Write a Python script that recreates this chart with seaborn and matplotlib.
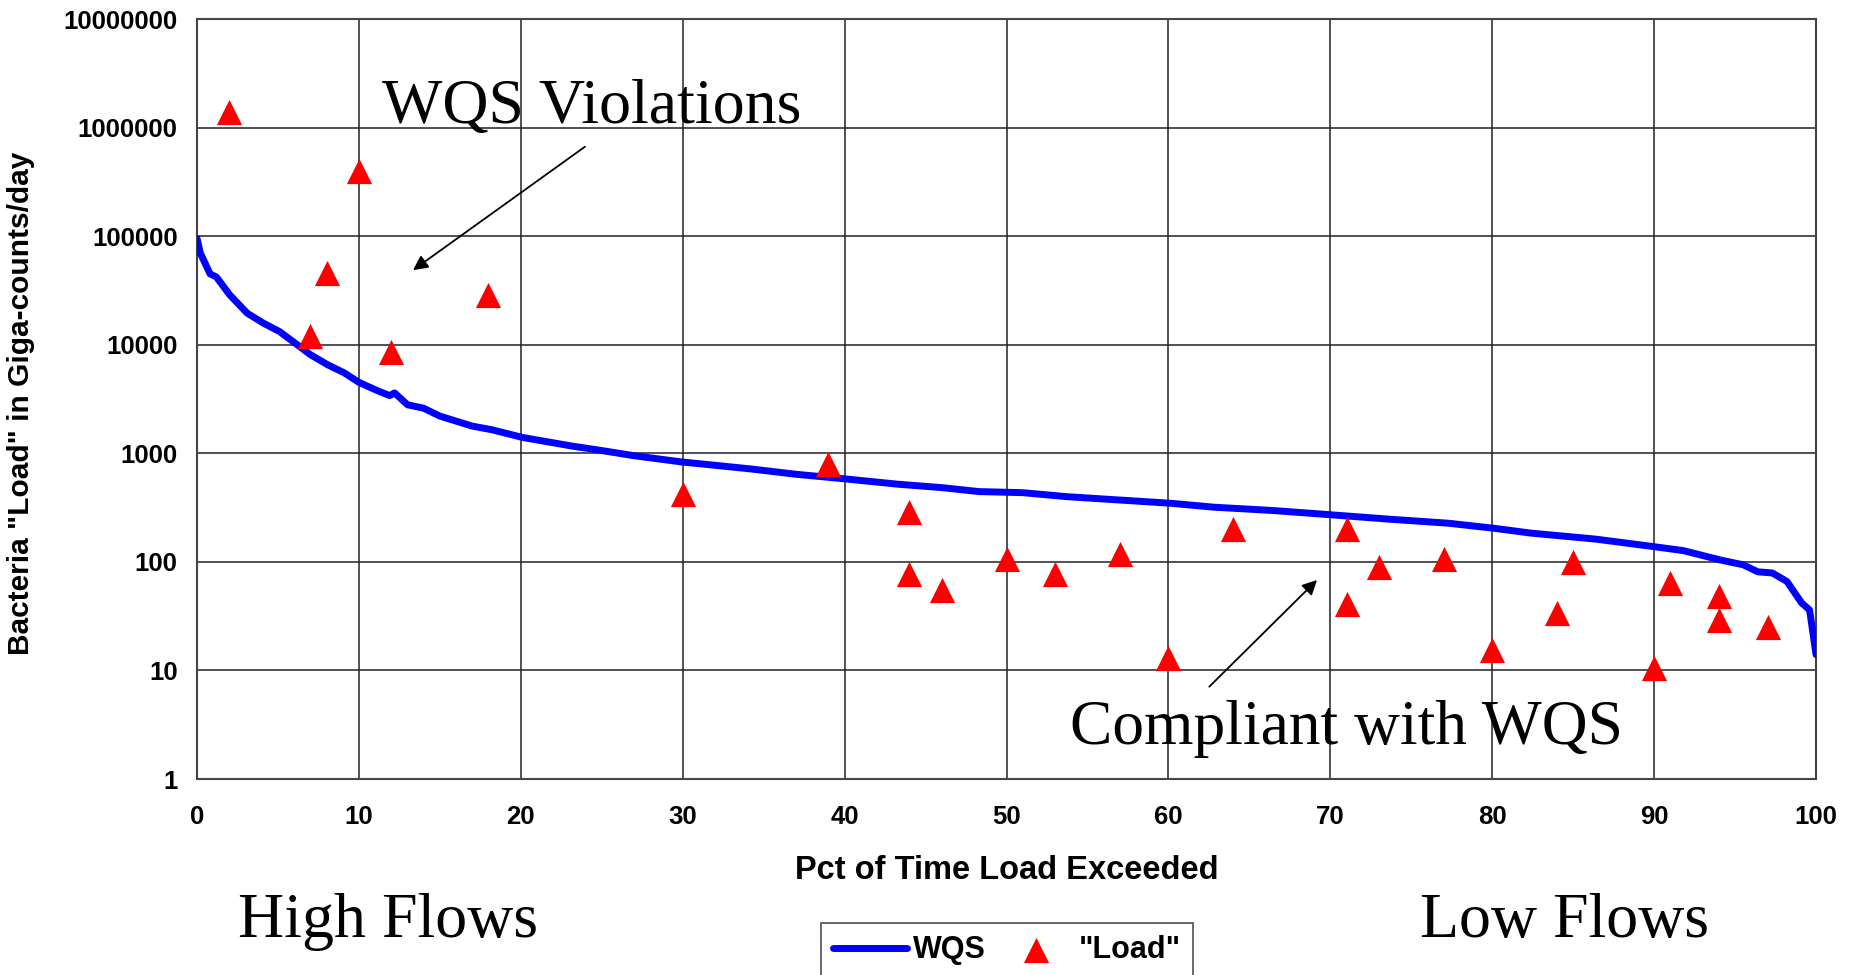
import numpy as np
import pandas as pd
import matplotlib
matplotlib.use('Agg')
import matplotlib.pyplot as plt
import seaborn as sns
from matplotlib.ticker import NullLocator

# WQS load duration curve (pct of time exceeded vs load)
wqs_pct = [0, 0.2, 0.8, 1.2, 2.0, 3.1, 4.1, 5.1, 6.0, 7.0, 8.1, 9.1, 10.0, 11.1, 11.9,
           12.2, 13.0, 14.0, 15.0, 17.0, 18.2, 20.1, 22.0, 23.1, 25, 27, 30, 31.1,
           34.2, 37.0, 40.1, 43.3, 46.0, 48.3, 51.0, 53.7, 56.9, 60.1, 62.8, 66.5,
           70.1, 73.7, 77.3, 80.1, 82.4, 86.4, 90.0, 91.8, 94.1, 95.5, 96.4, 97.3,
           98.2, 99.1, 99.6, 100]
wqs_load = [95000, 70000, 45000, 42000, 29000, 19500, 15800, 13200, 10500, 8100, 6500,
            5500, 4500, 3800, 3400, 3600, 2800, 2600, 2200, 1780, 1650, 1400, 1250, 1170,
            1060, 950, 830, 800, 718, 641, 580, 519, 483, 444, 434, 399, 372, 347, 319,
            297, 271, 247, 227, 204, 184, 162, 138, 127, 104, 94, 81, 79, 66, 42, 36, 14]

# observed "Load" samples
obs_pct = [2, 7, 8, 10, 12, 18, 30, 39, 44, 44, 46, 50, 53, 57, 60, 64, 71, 71, 73,
           77, 80, 84, 85, 90, 91, 94, 94, 97]
obs_load = [1.4e6, 12000, 46000, 4.0e5, 8600, 29000, 420, 800, 285, 78, 55, 106, 78,
            117, 13, 200, 200, 41, 90, 106, 15.5, 34, 100, 10.5, 64, 48, 29, 25]

y_ticks = [1, 10, 100, 1000, 10000, 100000, 1000000, 10000000]
y_tick_labels = ['1', '10', '100', '1000', '10000', '100000', '1000000', '10000000']
x_ticks = list(range(0, 101, 10))

wqs = pd.DataFrame({'pct': wqs_pct, 'load': wqs_load})
obs = pd.DataFrame({'pct': obs_pct, 'load': obs_load})

sns.set_style('white')
plt.rcParams['font.family'] = ['Liberation Sans', 'DejaVu Sans']
plt.rcParams['text.color'] = 'black'
plt.rcParams['axes.labelcolor'] = 'black'
plt.rcParams['xtick.color'] = 'black'
plt.rcParams['ytick.color'] = 'black'

fig = plt.figure(figsize=(18.52, 9.75), dpi=100)
ax = fig.add_axes([0.1064, 0.201, 0.8742, 0.7795])

sns.lineplot(data=wqs, x='pct', y='load', color='#0000FF', linewidth=5,
             label='WQS', ax=ax, zorder=3)
sns.scatterplot(data=obs, x='pct', y='load', marker='^', s=330, color='#FF0000',
                linewidth=0, label='"Load"', ax=ax, zorder=4)

ax.set_yscale('log')
ax.set_xlim(0, 100)
ax.set_ylim(1, 1e7)
ax.set_xticks(x_ticks)
ax.set_xticklabels([str(t) for t in x_ticks], fontsize=18.5, fontweight='bold')
ax.set_yticks(y_ticks)
ax.set_yticklabels(y_tick_labels, fontsize=18.5, fontweight='bold')
ax.yaxis.set_minor_locator(NullLocator())
ax.tick_params(axis='both', direction='out', length=6, width=1.2, color='#333333')
ax.tick_params(axis='x', pad=13)
ax.tick_params(axis='y', pad=8)

ax.grid(True, color='#222222', linewidth=1.1)
for sp in ax.spines.values():
    sp.set_visible(True)
    sp.set_color('#444444')
    sp.set_linewidth(1.5)

ax.set_xlabel('Pct of Time Load Exceeded', fontsize=23.5, fontweight='bold')
ax.xaxis.set_label_coords(0.5, -0.1)
ax.set_ylabel('Bacteria "Load" in Giga-counts/day', fontsize=21.5, fontweight='bold')
ax.yaxis.set_label_coords(-0.1, 0.495)

serif = ['Liberation Serif', 'DejaVu Serif']
ax.text(11.4, 1.1e6, 'WQS Violations', family=serif, fontsize=46, ha='left', va='baseline')
ax.annotate('', xy=(13.2, 4.7e4), xytext=(24.1, 6.9e5),
            arrowprops=dict(arrowstyle='-|>', color='black', lw=1.3, mutation_scale=22))
ax.text(53.9, 2.1, 'Compliant with WQS', family=serif, fontsize=45.7, ha='left', va='baseline')
ax.annotate('', xy=(69.3, 71), xytext=(62.4, 6.8),
            arrowprops=dict(arrowstyle='-|>', color='black', lw=1.3, mutation_scale=22))

fig.text(238 / 1852, 1 - 937 / 975, 'High Flows', family=serif, fontsize=46,
         ha='left', va='baseline')
fig.text(1420 / 1852, 1 - 937 / 975, 'Low Flows', family=serif, fontsize=46,
         ha='left', va='baseline')

leg = ax.legend(loc='upper left', bbox_to_anchor=(821 / 1852, 1 - 923 / 975),
                bbox_transform=fig.transFigure, ncol=2, frameon=True, fancybox=False,
                borderaxespad=0, borderpad=0.4, handlelength=2.4, handletextpad=0.2,
                columnspacing=0.45, scatterpoints=1,
                prop={'size': 22, 'weight': 'bold'})
leg.get_frame().set_edgecolor('#222222')
leg.get_frame().set_linewidth(1.2)

fig.savefig('out.png', dpi=100)
